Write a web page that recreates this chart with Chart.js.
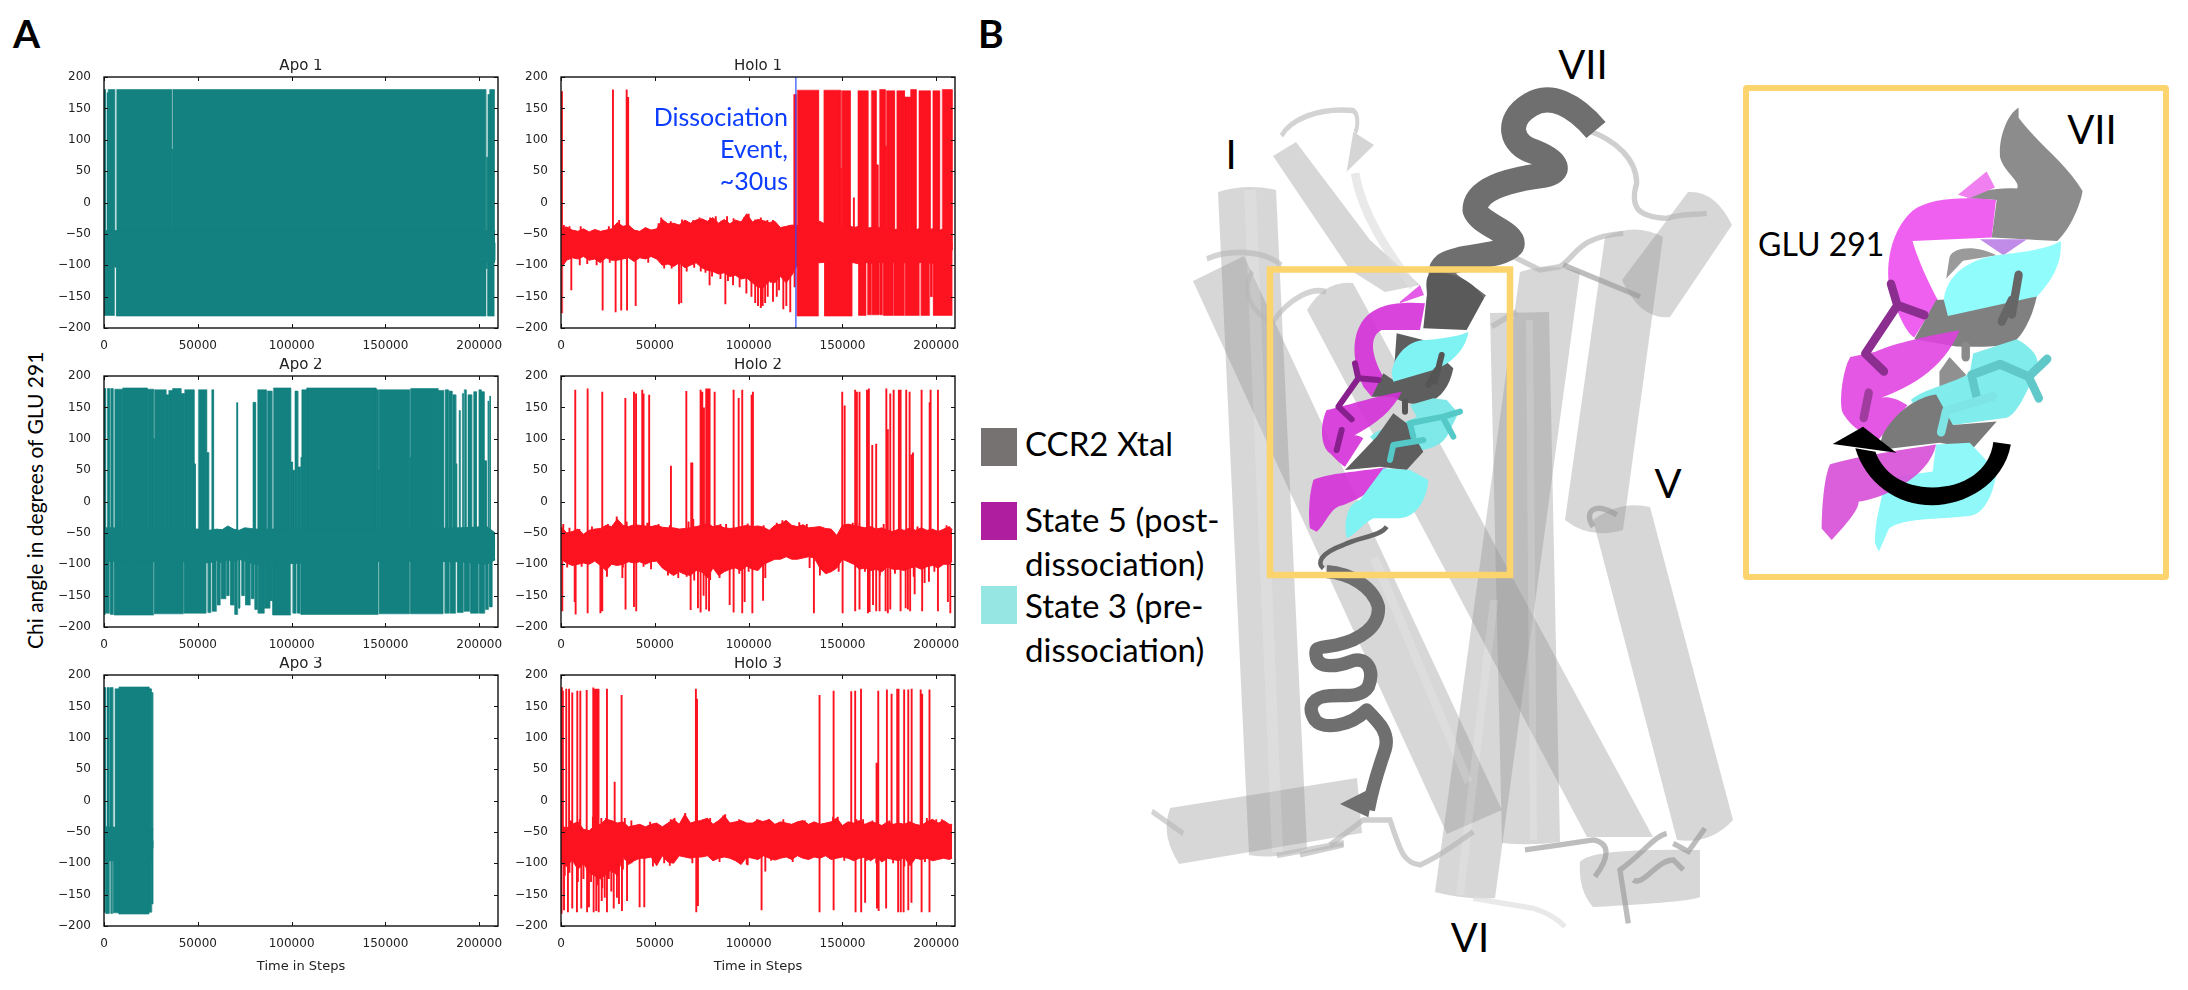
<!DOCTYPE html>
<html><head><meta charset="utf-8">
<style>
html,body{margin:0;padding:0;width:2188px;height:990px;overflow:hidden;background:#fff}
canvas{position:absolute;top:0;left:0}
svg{position:absolute;left:0;top:0}
</style>
<script src="https://cdn.jsdelivr.net/npm/chart.js@4"></script>
</head><body>
<svg id="fig" width="2188" height="990" viewBox="0 0 2188 990" xmlns="http://www.w3.org/2000/svg" font-family="Lato, 'Open Sans', sans-serif">
  <!-- translucent helix cylinders -->
  <g fill="#909090" fill-opacity=".36">
    <path d="M1218 192 Q1247 183 1276 190 L1307 849 Q1278 860 1249 855Z"/>
    <path d="M1193 281 L1244 256 L1502 810 L1447 834Z"/>
    <path d="M1273 156 L1296 142 L1370 240 L1420 285 L1385 292 L1350 270Z"/>
    <path d="M1307 310 Q1325 280 1353 283 L1653 837 L1587 837Z"/>
    <path d="M1520 272 Q1550 262 1580 272 L1495 898 Q1465 900 1435 892Z"/>
    <path d="M1490 313 L1549 312 L1560 842 Q1530 846 1502 843Z"/>
    <path d="M1605 237 Q1635 222 1663 237 L1623 530 Q1590 540 1565 520Z"/>
    <path d="M1593 520 Q1620 500 1650 507 L1733 820 Q1710 845 1677 840Z"/>
    <path d="M1688 192 Q1715 190 1732 225 L1670 317 Q1640 320 1622 280Z"/>
    <path d="M1170 808 L1357 778 L1362 833 L1179 864 Q1160 835 1170 808Z"/>
    <path d="M1580 862 Q1590 848 1700 850 L1700 897 Q1690 902 1593 907 Q1578 890 1580 862Z"/>
  </g>
  <g fill="#fff" fill-opacity=".16">
    <path d="M1244 190 L1256 190 L1283 852 L1272 852Z"/>
    <path d="M1370 560 L1378 556 L1472 780 L1465 784Z"/>
    <path d="M1490 600 L1498 600 L1464 895 L1456 895Z"/>
    <path d="M1526 320 L1533 320 L1537 840 L1530 840Z"/>
  </g>
  <!-- loops -->
  <g transform="translate(960,0) scale(.4464,.6314)" fill="none" stroke="#b5b5b5" stroke-opacity=".6" stroke-width="9">
    <path d="M720 215 C740 190 800 170 880 175 C895 180 890 205 885 210"/>
    <path d="M553 410 C600 395 680 395 720 420"/>
    <path d="M655 430 C630 460 650 495 700 510 C740 470 790 455 820 462"/>
    <path d="M430 1285 L500 1320"/>
    <path d="M710 1355 L860 1335"/>
  </g>
  <g transform="translate(1300,130) scale(.3333)" fill="none" stroke="#b5b5b5" stroke-opacity=".65" stroke-width="16">
    <path d="M860 0 C950 30 1010 90 1010 160 C990 230 1010 260 1100 265 C1150 250 1190 255 1220 250"/>
    <path d="M630 375 L720 420 L780 410 C830 380 830 320 970 310"/>
    <path d="M790 405 L1020 500" stroke="#999"/>
    <path d="M575 590 L650 545"/>
    <path d="M880 1190 C850 1150 880 1110 950 1155" stroke="#999"/>
    <path d="M165 130 C185 250 260 360 340 470" stroke="#ddd" stroke-width="26"/>
    <path d="M140 125 L160 5 L222 45 Z" fill="#d5d5d5" stroke="none"/>
  </g>
  <g transform="translate(1300,530) scale(.3333)" fill="none" stroke="#b5b5b5" stroke-opacity=".65" stroke-width="16">
    <path d="M0 975 L130 945"/>
    <path d="M90 945 L190 870 L270 870 C300 960 310 1000 360 1005 C420 980 470 940 520 905"/>
    <path d="M520 1105 L700 1135 C750 1150 775 1170 795 1190" stroke="#ddd"/>
    <path d="M675 960 L780 945 L880 930 C930 940 930 980 885 1040" stroke="#999"/>
    <path d="M1100 910 C1060 920 1030 970 960 1020 L985 1180" stroke="#999"/>
    <path d="M1000 1050 C1030 1070 1070 990 1120 990 L1150 1020" stroke="#999"/>
    <path d="M1120 940 L1165 965 L1215 895" stroke="#999"/>
  </g>
  <!-- grey ribbon, upper and lower -->
  <path d="M1596 130 C1575 105 1550 92 1530 105 C1505 120 1510 145 1535 152 C1560 162 1560 172 1545 175 C1505 180 1475 190 1475 210 C1480 225 1515 232 1512 245 C1500 258 1460 255 1445 265 C1430 278 1460 290 1478 305" fill="none" stroke="#6f6f6f" stroke-width="25" stroke-linejoin="round"/>
  <g transform="translate(1300,530) scale(.3333)">
    <path d="M80 125 C150 130 220 170 235 230 C240 290 180 330 110 345 C60 355 40 345 50 385 C60 415 110 410 150 395 C200 375 225 420 205 470 C180 510 120 490 70 500 C30 510 25 540 45 570 C70 600 150 590 200 540 C240 580 270 610 255 660 C235 720 220 760 205 840" fill="none" stroke="#6f6f6f" stroke-width="40" stroke-linejoin="round"/>
    <path d="M120 822 L205 862 L222 770Z" fill="#6f6f6f"/>
    <path d="M260 -10 C240 20 180 20 130 45 C60 70 50 100 70 115" fill="none" stroke="#666" stroke-width="14"/>
  </g>
  <!-- helix colours in the yellow box -->
  <g transform="translate(1300,130) scale(.3333)">
    <path d="M552 505 C520 450 450 420 390 430 C370 450 385 490 380 500 L370 595 L500 600Z" fill="#5a5a5a"/>
    <path d="M300 515 L360 465 L372 495 L300 520Z" fill="#e35be6"/>
    <path d="M375 520 C300 515 230 520 190 570 C160 610 150 680 190 770 L215 800 L250 740 C215 680 205 620 245 600 L360 600Z" fill="#d530d8" fill-opacity=".9"/>
    <path d="M290 610 L370 630 L460 715 C450 770 420 805 390 815 C340 830 300 815 280 800 L215 800 L250 730 L280 750Z" fill="#5e5e5e"/>
    <path d="M505 605 C480 620 390 630 370 630 C320 635 280 680 275 730 L280 755 L400 720 C460 700 500 650 505 605Z" fill="#7ff3f3"/>
    <path d="M305 785 C220 800 130 830 80 840 C60 880 60 950 90 970 C110 990 130 1010 135 1010 L190 925 C160 905 130 920 165 915 C230 880 280 840 305 785Z" fill="#d530d8" fill-opacity=".9"/>
    <path d="M330 825 L400 805 L440 810 L475 850 L440 920 C410 960 370 960 290 970 L270 985 L210 920 C240 890 320 880 350 860Z" fill="#7fe8e8"/>
    <path d="M230 920 L280 850 L320 880 L370 965 L320 1020 L240 1010 L135 1020Z" fill="#5e5e5e"/>
    <path d="M258 1012 C180 1025 80 1030 40 1050 C25 1100 25 1170 30 1195 L50 1205 C80 1180 90 1130 130 1125 C170 1110 240 1080 258 1012Z" fill="#d530d8" fill-opacity=".9"/>
    <path d="M250 1015 L330 1020 L385 1050 C380 1110 350 1160 300 1165 L220 1165 C190 1180 160 1220 140 1225 C130 1180 140 1120 180 1110Z" fill="#7ff3f3"/>
    <g fill="none" stroke-linecap="round" stroke-linejoin="round" stroke-width="18">
      <path d="M165 700 L175 745 L115 830 L155 868 M175 745 L235 750 M110 960 L125 900" stroke="#87208c"/>
      <path d="M425 675 L405 755 M385 765 L410 720 M315 815 L315 845" stroke="#555"/>
      <path d="M340 920 L330 880 L430 860 L480 845 M430 865 L460 920 M270 990 L280 945 L370 930" stroke="#55c8c8"/>
    </g>
  </g>
  <rect x="1270" y="269.5" width="240" height="305.5" fill="none" stroke="#fcd46e" stroke-width="6.5"/>
  <!-- inset -->
  <g transform="translate(1660,50) scale(.3367,.3571)">
    <path d="M1065 162 C1030 180 1005 250 1010 300 C1020 340 1075 370 1060 388 C1000 385 940 395 910 415 L1000 420 L985 525 L1180 535 C1220 500 1250 430 1255 395 C1210 320 1120 260 1065 190Z" fill="#8c8c8c"/>
    <path d="M885 405 L970 340 L995 385 L920 415Z" fill="#f080f0"/>
    <path d="M860 580 C870 550 940 545 1000 575 L900 590 L850 640Z" fill="#9a9a9a"/>
    <path d="M998 420 C900 410 800 415 750 450 C690 500 670 590 680 660 C700 730 730 790 755 805 L825 700 C790 640 760 570 750 535 L985 525Z" fill="#f060f0"/>
    <path d="M950 530 L1020 575 L1090 530Z" fill="#c08ce8"/>
    <path d="M820 700 L1120 685 C1110 740 1075 810 1040 825 C970 835 900 830 880 830 L755 810Z" fill="#808080"/>
    <path d="M1190 535 C1150 560 1050 570 1000 575 C900 590 850 640 843 700 L855 745 L1120 690 C1170 640 1195 590 1190 535Z" fill="#90fcfc"/>
    <path d="M830 900 L860 860 L910 910 L830 965Z" fill="#909090"/>
    <path d="M930 850 L1060 810 C1100 830 1130 860 1120 890 C1090 960 1060 1020 1030 1030 L870 1050 L825 1090 L745 980 C780 950 880 930 920 905Z" fill="#80ecec"/>
    <path d="M890 785 C800 800 700 820 640 845 L565 860 C540 900 530 1000 545 1020 C570 1060 620 1085 650 1090 L735 995 C680 960 650 975 640 980 C730 950 840 900 890 785Z" fill="#e040e0" fill-opacity=".88"/>
    <path d="M660 1080 C700 1010 770 970 820 965 L870 1050 L1000 1040 L930 1115 L830 1100 L650 1120Z" fill="#7a7a7a"/>
    <path d="M820 1105 L920 1100 L1000 1180 C990 1250 960 1300 920 1305 C830 1315 720 1310 680 1340 L650 1405 L638 1380 C640 1300 660 1260 670 1200 L810 1180Z" fill="#90f8f8"/>
    <path d="M820 1105 C720 1120 600 1135 505 1160 C485 1200 480 1300 480 1340 L510 1372 C550 1330 590 1290 590 1265 C650 1260 800 1200 820 1105Z" fill="#d850d8" fill-opacity=".92"/>
    <g fill="none" stroke-linecap="round" stroke-linejoin="round" stroke-width="25">
      <path d="M686 655 L705 715 L610 850 L665 900 M705 715 L785 742" stroke="#8b2e90"/>
      <path d="M605 1030 L620 960" stroke="#a03ca0"/>
      <path d="M1065 630 L1045 740 M1015 760 L1045 700" stroke="#666"/>
      <path d="M908 830 L908 860" stroke="#8a8a8a"/>
      <path d="M940 970 L925 910 L1010 880 L1095 915 L1150 865 M1095 915 L1125 975" stroke="#60c8c8"/>
      <path d="M835 1070 L850 1010 L990 970" stroke="#7fe4e4"/>
    </g>
    <path d="M990 1098 L1042 1105 C1020 1220 900 1275 810 1275 C700 1275 610 1210 580 1115 L640 1125 C660 1180 720 1225 810 1225 C900 1225 980 1180 990 1098Z" fill="#000"/>
    <path d="M513 1103 L603 1055 L702 1128Z" fill="#000"/>
  </g>
  <rect x="1746" y="88" width="420" height="489" rx="1" fill="none" stroke="#fcd46e" stroke-width="6"/>
  <!-- swatches -->
  <rect x="981" y="428" width="36" height="38" fill="#777272"/>
  <rect x="981" y="502" width="36" height="38" fill="#b01ea0"/>
  <rect x="981" y="586" width="36" height="38" fill="#96e6e4"/>
  <!-- texts -->
  <g fill="#000" font-size="33">
    <text x="1025" y="455.5">CCR2 Xtal</text>
    <text x="1025" y="532">State 5 (post-</text>
    <text x="1025" y="576">dissociation)</text>
    <text x="1025" y="618">State 3 (pre-</text>
    <text x="1025" y="662">dissociation)</text>
    <text x="1231" y="169" font-size="40" text-anchor="middle">I</text>
    <text x="1583" y="79" font-size="40" text-anchor="middle">VII</text>
    <text x="1668" y="498" font-size="40" text-anchor="middle">V</text>
    <text x="1470" y="952" font-size="40" text-anchor="middle">VI</text>
    <text x="2092" y="144" font-size="40" text-anchor="middle">VII</text>
    <text x="1758" y="256" font-size="32">GLU 291</text>
    <text x="13" y="48" font-size="39" font-weight="700">A</text>
    <text x="978" y="48" font-size="39" font-weight="700">B</text>
    <text transform="translate(43,649) rotate(-90)" font-size="21">Chi angle in degrees of GLU 291</text>
  </g>
</svg>
<script>
// ---- tick labels
const xTickValues = [0,50000,100000,150000,200000];
const yTickValues = [-200,-150,-100,-50,0,50,100,150,200];

// ---- x grid of the envelope readings for the Holo runs (steps)
const holoGrid = [0,3000,6000,9000,12000,15000,18000,21000,24000,27000,
  30000,33000,36000,39000,42000,45000,48000,51000,54000,57000,
  60000,63000,66000,69000,72000,75000,78000,81000,84000,87000,
  90000,93000,96000,99000,102000,105000,108000,111000,114000,117000,
  120000,123000,126000,129000,132000,135000,138000,141000,144000,147000,
  150000,153000,156000,159000,162000,165000,168000,171000,174000,177000,
  180000,183000,186000,189000,192000,195000,198000,201000,204000,207000,208500];

const holo1BandTop = [-40,-39,-44,-46,-42,-47,-43,-46,-44,-42,
  -32,-38,-36,-44,-46,-40,-44,-42,-27,-34,
  -33,-36,-28,-33,-28,-26,-30,-24,-33,-27,
  -34,-28,-31,-18,-31,-27,-29,-32,-30,-40,
  -38,-36,-37,-38,-36,-33,-30,-35,-38,-36,
  -38,-36,-40,-38,-42,-40,-38,-42,-40,-44,
  -42,-45,-42,-44,-40,-44,-42,-45,-42,-46,-44];
const holo1BandBot = [-105,-92,-88,-90,-86,-92,-90,-96,-88,-92,
  -92,-90,-88,-94,-88,-90,-86,-90,-100,-98,
  -102,-96,-104,-100,-96,-104,-108,-110,-114,-112,
  -118,-116,-122,-120,-128,-135,-135,-125,-128,-118,
  -128,-116,-100,-95,-98,-95,-96,-95,-98,-96,
  -97,-95,-96,-98,-95,-97,-96,-95,-98,-95,
  -97,-96,-95,-98,-95,-96,-97,-95,-96,-95,-92];
const holo2BandTop = [-40,-50,-48,-44,-52,-46,-44,-43,-38,-40,
  -28,-38,-40,-37,-38,-39,-40,-38,-41,-42,
  -42,-44,-43,-42,-40,-38,-35,-40,-38,-42,
  -43,-42,-40,-38,-40,-39,-41,-46,-38,-36,
  -30,-38,-40,-37,-42,-41,-40,-43,-44,-54,
  -38,-36,-38,-40,-42,-40,-44,-42,-46,-48,
  -44,-46,-42,-46,-42,-46,-44,-48,-44,-40,-45];
const holo2BandBot = [-92,-98,-102,-100,-98,-100,-95,-102,-110,-100,
  -102,-100,-96,-98,-96,-100,-96,-95,-106,-112,
  -118,-112,-116,-118,-110,-112,-122,-106,-118,-112,
  -108,-106,-110,-103,-108,-110,-100,-96,-92,-92,
  -88,-92,-92,-90,-88,-90,-106,-115,-112,-106,
  -92,-96,-100,-108,-106,-110,-108,-112,-104,-108,
  -108,-110,-106,-104,-108,-104,-102,-106,-100,-100,-95];
const holo3BandTop = [-40,-44,-38,-34,-46,-48,-40,-38,-30,-32,
  -36,-34,-42,-40,-38,-42,-38,-36,-42,-36,
  -30,-38,-22,-36,-33,-32,-28,-38,-32,-24,
  -36,-34,-32,-36,-36,-31,-34,-30,-38,-34,
  -36,-38,-34,-32,-38,-34,-38,-36,-34,-28,
  -40,-34,-36,-32,-38,-34,-36,-40,-34,-38,
  -36,-38,-34,-38,-40,-34,-30,-36,-32,-38,-38];
const holo3BandBot = [-100,-105,-95,-110,-100,-115,-120,-125,-118,-110,
  -120,-88,-102,-96,-92,-92,-90,-104,-88,-98,
  -100,-88,-90,-92,-90,-90,-88,-96,-92,-90,
  -92,-96,-102,-90,-92,-94,-88,-92,-95,-92,
  -90,-94,-88,-92,-94,-90,-92,-88,-94,-92,
  -90,-92,-96,-92,-90,-96,-90,-98,-92,-94,
  -96,-90,-104,-92,-94,-92,-96,-94,-92,-94,-92];

// ---- Apo band (the part of the trace that never leaves the central well)
const apo1BandX = [0,208500];
const apo1BandTop = [-45,-45];
const apo1BandBot = [-95,-95];
const apo2BandX = [0,50000,56000,60000,63000,66000,69000,72000,75000,78000,81000,150000,190000,204000,208500];
const apo2BandTop = [-42,-44,-46,-44,-45,-39,-44,-46,-42,-43,-44,-44,-42,-40,-50];
const apo2BandBot = [-95,-96,-98,-94,-98,-92,-97,-92,-95,-98,-100,-95,-96,-100,-93];
const apo3BandX = [0,26200];
const apo3BandTop = [-42,-45];
const apo3BandBot = [-96,-96];

// ---- excursions: [from step, to step, extreme angle]
const apo1Up = [[0,800,180],[1600,2200,175],[2200,5700,180],[6750,36000,180],[36000,36600,85],[36600,203500,180],[203700,204500,72],[204600,205500,172],[205500,208000,180]];
const apo1Down = [[0,5700,-180],[5700,6700,-103],[6700,203600,-181],[203700,204500,-105],[204600,208000,-181],[208000,208500,-92]];
const apo2Up = [[0,800,180],[1700,2900,180],[3500,4800,180],[5700,10000,179],[10000,23000,181],[23000,26300,179],[26300,26800,100],[26800,33000,178],[33000,34500,170],[34500,36500,177],[36500,41000,180],[41000,43000,172],[43000,48000,178],[48000,48700,60],[50300,54700,178],[54700,55800,78],[57400,58400,178],[79400,80800,158],[81900,86500,178],[87000,89500,176],[90300,99500,181],[99500,100500,63],[100500,101500,50],[101800,103300,176],[103300,104900,55],[104900,105400,70],[105400,108000,178],[108000,145000,181],[145000,146200,178],[146200,146600,50],[146600,163000,178],[163000,163400,70],[163400,178000,180],[178000,181000,177],[181800,183500,178],[183900,185500,176],[185900,187500,170],[187500,188000,60],[189300,189800,145],[191000,191500,172],[192000,193000,178],[194000,196000,170],[197000,198500,175],[199800,201000,178],[201000,202600,175],[202600,203800,65],[204600,205100,160],[205500,206000,168]];
const apo2Down = [[0,700,-180],[900,3000,-178],[3500,5000,-180],[5500,26500,-181],[27000,42300,-179],[42700,54500,-178],[55500,57000,-177],[57800,60000,-175],[60500,62000,-165],[62500,65000,-155],[65500,66800,-150],[67500,69500,-165],[69800,71300,-180],[71800,72500,-170],[73500,75000,-150],[75500,78000,-165],[78500,80000,-155],[80500,82000,-172],[82200,85500,-178],[85500,88500,-170],[88500,90000,-158],[90000,99500,-181],[100800,102500,-178],[103200,104500,-178],[105000,146200,-180],[146800,163000,-179],[163500,180800,-179],[181800,184000,-178],[184500,187500,-178],[188500,191500,-177],[192000,195000,-175],[195500,199500,-178],[200000,203000,-178],[203500,205000,-172],[205500,207000,-168]];
const apo3Up = [[0,800,180],[1600,2700,180],[3200,4700,180],[5900,8000,178],[8000,24000,181],[24000,25200,178],[25200,26000,172]];
const apo3Down = [[0,700,-178],[1000,3000,-180],[3800,4700,-180],[5200,8000,-179],[8000,24000,-181],[24000,25500,-178],[25500,26200,-165]];
const holo1Up = [[0,700,177],[124000,125300,172],[125900,137300,179],[140100,148900,179],[148900,149400,55],[149400,150000,178],[150300,154200,178],[158300,163600,178],[165400,168000,178],[168000,169000,60],[169800,172800,180],[172800,173400,90],[173400,177800,178],[179000,183100,178],[183100,186300,168],[186300,189300,180],[190800,196800,178],[198200,201800,178],[203200,208500,180]];
const holo1Down = [[0,900,-176],[125900,137300,-181],[140500,155200,-181],[158700,162600,-180],[163600,165600,-179],[166000,169500,-179],[170000,171500,-179],[172000,177000,-180],[177500,183000,-180],[183500,191000,-180],[192000,196500,-180],[197000,198000,-150],[198500,208500,-180]];
const holo2Up = [];
const holo2Down = [];
const holo3Up = [[0,700,180]];
const holo3Down = [[0,700,-180]];

// ---- thin one-frame spikes: [step, extreme angle]
const apo2Spikes = [[71000,158]];
const holo1Spikes = [[27700,180],[35000,180],[35800,168],[156100,8],[5500,-140],[22200,-172],[29100,-175],[32100,-172],[35200,-172],[39800,-165],[62900,-162],[64100,-160],[79200,-132],[87600,-162],[91700,-132],[95200,-135],[98800,-145],[106500,-168],[108800,-160],[113000,-158],[116200,-140],[118500,-170],[120100,-165],[122200,-175],[124500,-135],
  [101500,-150],[103500,-160],[105000,-165],[107500,-165],[110200,-150],[111800,-128],[115000,-150],
  [1500,-36],[4500,-38],[10500,-38],[25500,-38],[31000,-28],[52000,-33],[53400,-24],[58500,-30],[64500,-27],[70500,-28],[73800,-24],[79500,-24],[82500,-22],[85500,-29],[88500,-22],[92000,-25],[97500,-24],[100000,-18],[103500,-27],[106500,-24],[110000,-28],[113000,-28],
  [10000,-100],[14000,-98],[19000,-100],[26000,-96],[46500,-96],[55000,-105],[59000,-105],[67000,-110],[71000,-104],[74500,-110],[77000,-112],[80500,-118],[85000,-122],[89000,-125]];
const holo2Spikes = [[7600,178],[14200,180],[22000,175],[34300,165],[38900,175],[40000,172],[43300,178],[44000,172],[47000,170],[58600,57],[66800,176],[69400,62],[70000,62],[74400,178],[75300,175],[76200,150],[77400,180],[78300,180],[79200,180],[81900,175],[92000,178],[94700,165],[96600,178],[101600,170],[102300,175],[149900,175],[151200,153],[156800,178],[157700,175],[159100,175],[163100,178],[164100,180],[165900,90],[168000,92],[173400,180],[174200,115],[175500,172],[177300,178],[180100,178],[181000,178],[184000,178],[185800,175],[186900,75],[187600,78],[192200,178],[196500,158],[197000,178],[200900,178],
  [700,-175],[7300,-160],[7800,-180],[14200,-178],[21000,-178],[22000,-175],[24500,-120],[32700,-122],[34400,-172],[38900,-168],[40100,-175],[69100,-173],[73000,-170],[74400,-177],[76000,-150],[77400,-172],[78900,-175],[89900,-165],[92000,-177],[96600,-178],[97900,-160],[102000,-178],[107700,-158],[108900,-122],[134800,-178],[150100,-178],[156800,-175],[159100,-172],[163600,-178],[164500,-176],[166300,-165],[168000,-175],[169800,-175],[173000,-175],[174200,-178],[175500,-172],[181000,-175],[183700,-170],[184900,-172],[186100,-175],[188500,-148],[192500,-175],[193800,-130],[196100,-128],[200900,-175],[206200,-160],[207500,-178],
  [1200,-36],[4500,-42],[9800,-44],[16500,-40],[25000,-36],[29700,-24],[31500,-33],[35000,-32],[46000,-34],[52000,-36],[58000,-38],[68000,-32],[70500,-28],[85000,-36],[88000,-36],[99500,-35],[108000,-38],[115000,-34],[118000,-30],[121000,-34],[127000,-33],[131000,-36],[155500,-34],[159000,-34],[168000,-36],[172000,-36],[190000,-40],[205500,-38],
  [3300,-105],[11000,-104],[33000,-105],[44000,-104],[48000,-108],[57000,-118],[62500,-122],[67000,-120],[71000,-126],[79500,-125],[84500,-122],[95000,-115],[100000,-112],[132500,-106],[138000,-118],[148000,-112],[162000,-112],[170000,-118],[178000,-115],[188000,-120],[199000,-112]];
const holo3Spikes = [[1000,175],[2800,178],[4300,178],[6000,172],[8700,175],[10300,175],[13700,176],[17200,180],[18100,178],[19000,178],[20000,178],[24500,178],[28600,30],[32300,168],[71900,178],[72500,162],[137800,168],[145300,175],[154700,174],[156800,175],[159900,178],[168200,60],[169100,175],[173700,177],[176200,170],[179200,178],[179900,178],[182900,177],[185100,177],[186900,178],[191700,177],[192500,170],[196400,177],
  [1600,-175],[3700,-178],[6000,-172],[8500,-178],[10800,-172],[13900,-178],[14900,-170],[17400,-178],[18800,-176],[20100,-178],[21700,-160],[23300,-155],[24500,-178],[26800,-145],[28100,-172],[29800,-155],[30900,-165],[32500,-176],[35200,-160],[41900,-170],[44400,-170],[72100,-178],[73000,-168],[99500,-103],[106900,-175],[108900,-113],[137800,-178],[145300,-175],[157000,-178],[160000,-178],[162100,-163],[168400,-172],[169300,-176],[173300,-172],[179700,-178],[181100,-178],[182600,-178],[185100,-175],[186800,-163],[192200,-178],[196400,-178],
  [1000,-36],[5000,-32],[10000,-30],[17000,-26],[21500,-28],[24000,-28],[34000,-28],[37500,-32],[47500,-34],[58500,-30],[60500,-28],[66200,-20],[75500,-30],[79500,-28],[86500,-24],[87500,-22],[95000,-30],[104500,-30],[108500,-32],[118500,-30],[130000,-32],[145000,-26],[147500,-26],[157500,-30],[161000,-30],[166000,-32],[175000,-32],[195000,-28],[200000,-30],[203000,-30],
  [2000,-120],[4500,-115],[9000,-130],[12000,-125],[16000,-130],[19500,-135],[22000,-140],[25500,-125],[27500,-115],[33000,-110],[34300,-95],[37500,-100],[49000,-105],[55000,-100],[58000,-104],[70000,-100],[84500,-98],[99000,-102],[112000,-96],[123500,-98],[151000,-96],[163000,-96],[168000,-100],[177000,-100],[183000,-105],[194000,-98]];

// ---- the dissociation marker on Holo 1
const dissociationStep = [125200,125200];
const dissociationAngle = [-200,200];

const xMax = 210000;
const TEAL = '#13817f', RED = '#fd1220';

// the fills of the upper and lower halves overlap a little inside the well
const WELL_UP = -76, WELL_DOWN = -64;
function bandLine(xs, ys, col, base){
  return {data: xs.map((x,i)=>({x, y: ys[i]})), borderColor: col, backgroundColor: col, borderWidth: 1,
    borderJoinStyle: 'round', fill: {value: base}, showLine: true, pointRadius: 0, tension: 0};
}
function blockLine(blocks, col, base){
  const d = [];
  blocks.forEach(([s,e,v])=>{ d.push({x:s,y:base},{x:s,y:v},{x:e,y:v},{x:e,y:base},{x:e,y:NaN}); });
  return {data: d, borderColor: col, backgroundColor: col, borderWidth: .6, fill: {value: base},
    showLine: true, pointRadius: 0, tension: 0, spanGaps: false};
}
function spikeLine(spikes, col){
  const d = [];
  spikes.slice().sort((a,b)=>a[0]-b[0]).forEach(([x,v])=>{ d.push({x,y:-70},{x,y:v},{x,y:NaN}); });
  return {data: d, borderColor: col, borderWidth: 1.9, fill: false, showLine: true, pointRadius: 0, tension: 0, spanGaps: false};
}

const boxTicks = {
  id: 'boxTicks',
  afterDatasetsDraw(chart){
    const {ctx, chartArea: a, scales: {x, y}} = chart;
    ctx.save();
    ctx.strokeStyle = '#111';
    ctx.lineWidth = 1;
    ctx.beginPath();
    const len = 4;
    x.ticks.forEach(t=>{ const p = Math.round(x.getPixelForValue(t.value))+.5;
      ctx.moveTo(p,a.top); ctx.lineTo(p,a.top+len); ctx.moveTo(p,a.bottom); ctx.lineTo(p,a.bottom-len); });
    y.ticks.forEach(t=>{ const p = Math.round(y.getPixelForValue(t.value))+.5;
      ctx.moveTo(a.left,p); ctx.lineTo(a.left+len,p); ctx.moveTo(a.right,p); ctx.lineTo(a.right-len,p); });
    ctx.stroke();
    ctx.lineWidth = 1.4;
    ctx.strokeRect(a.left, a.top, a.right-a.left, a.bottom-a.top);
    ctx.restore();
  }
};

const PLOT_W = 394, PLOT_H = 251;
function makePanel(cfg){
  const c = document.createElement('canvas');
  c.width = 520; c.height = 370;
  document.body.appendChild(c);
  const datasets = [
    bandLine(cfg.bandX, cfg.bandTop, cfg.color, WELL_UP),
    bandLine(cfg.bandX, cfg.bandBot, cfg.color, WELL_DOWN),
    blockLine(cfg.up, cfg.color, WELL_UP),
    blockLine(cfg.down, cfg.color, WELL_DOWN),
    spikeLine(cfg.spikes, cfg.color)
  ];
  if (cfg.marker) datasets.unshift({data: cfg.marker.x.map((x,i)=>({x, y: cfg.marker.y[i]})),
    borderColor: '#2a4cff', borderWidth: 1.2, fill: false, showLine: true, pointRadius: 0});
  const chart = new Chart(c, {
    type: 'scatter',
    data: {datasets},
    options: {
      responsive: false, maintainAspectRatio: false, animation: false, devicePixelRatio: 1,
      parsing: false,
      layout: {padding: {left: 0, right: 28, top: 0, bottom: 4}},
      plugins: {
        legend: {display: false}, tooltip: {enabled: false},
        title: {display: true, text: cfg.title, color: '#222', fullSize: false,
          font: {family: 'DejaVu Sans', size: 15, weight: 'normal', lineHeight: 1},
          padding: {top: 0, bottom: 3}}
      },
      scales: {
        x: {type: 'linear', min: 0, max: xMax,
          grid: {display: false}, border: {display: false},
          afterBuildTicks: s => { s.ticks = xTickValues.map(value => ({value})); },
          title: {display: !!cfg.xTitle, text: cfg.xTitle || '', color: '#222', padding: {top: 4, bottom: 0},
            font: {family: 'DejaVu Sans', size: 13}},
          ticks: {autoSkip: false, maxRotation: 0, minRotation: 0, padding: 3,
            color: '#222', font: {family: 'DejaVu Sans', size: 12}, callback: v => String(v)}},
        y: {type: 'linear', min: -200, max: 200,
          grid: {display: false}, border: {display: false},
          afterBuildTicks: s => { s.ticks = yTickValues.map(value => ({value})); },
          afterFit: s => { s.width = 60; },
          ticks: {autoSkip: false, padding: 5,
            color: '#222', font: {family: 'DejaVu Sans', size: 12}, callback: v => String(v).replace('-', '\u2212')}}
      }
    },
    plugins: [boxTicks]
  });
  let a = chart.chartArea;
  chart.resize(c.width + PLOT_W - (a.right-a.left), c.height + PLOT_H - (a.bottom-a.top));
  a = chart.chartArea;
  c.style.left = (cfg.px - a.left) + 'px';
  c.style.top = (cfg.py - a.top) + 'px';
  return chart;
}

const colL = 104.3, colR = 561.3;
makePanel({title:'Apo 1', px:colL, py:77, color:TEAL, bandX:apo1BandX, bandTop:apo1BandTop, bandBot:apo1BandBot, up:apo1Up, down:apo1Down, spikes:[]});
makePanel({title:'Apo 2', px:colL, py:376, color:TEAL, bandX:apo2BandX, bandTop:apo2BandTop, bandBot:apo2BandBot, up:apo2Up, down:apo2Down, spikes:apo2Spikes});
makePanel({title:'Apo 3', px:colL, py:674.5, color:TEAL, bandX:apo3BandX, bandTop:apo3BandTop, bandBot:apo3BandBot, up:apo3Up, down:apo3Down, spikes:[], xTitle:'Time in Steps'});
makePanel({title:'Holo 1', px:colR, py:77, color:RED, bandX:holoGrid, bandTop:holo1BandTop, bandBot:holo1BandBot, up:holo1Up, down:holo1Down, spikes:holo1Spikes, marker:{x:dissociationStep,y:dissociationAngle}});
makePanel({title:'Holo 2', px:colR, py:376, color:RED, bandX:holoGrid, bandTop:holo2BandTop, bandBot:holo2BandBot, up:holo2Up, down:holo2Down, spikes:holo2Spikes});
makePanel({title:'Holo 3', px:colR, py:674.5, color:RED, bandX:holoGrid, bandTop:holo3BandTop, bandBot:holo3BandBot, up:holo3Up, down:holo3Down, spikes:holo3Spikes, xTitle:'Time in Steps'});

// annotation text of Holo 1 placed above the canvases
const svgNS = 'http://www.w3.org/2000/svg';
const over = document.createElementNS(svgNS,'svg');
over.setAttribute('width','2188'); over.setAttribute('height','990');
over.style.pointerEvents = 'none';
[['Dissociation',126],['Event,',158],['~30us',190]].forEach(([t,y])=>{
  const e = document.createElementNS(svgNS,'text');
  e.setAttribute('x','788'); e.setAttribute('y',String(y)); e.setAttribute('text-anchor','end');
  e.setAttribute('font-family','Lato, "Open Sans", sans-serif'); e.setAttribute('font-size','25'); e.setAttribute('fill','#0b3cff');
  e.textContent = t; over.appendChild(e);
});
document.body.appendChild(over);
</script>
</body></html>
